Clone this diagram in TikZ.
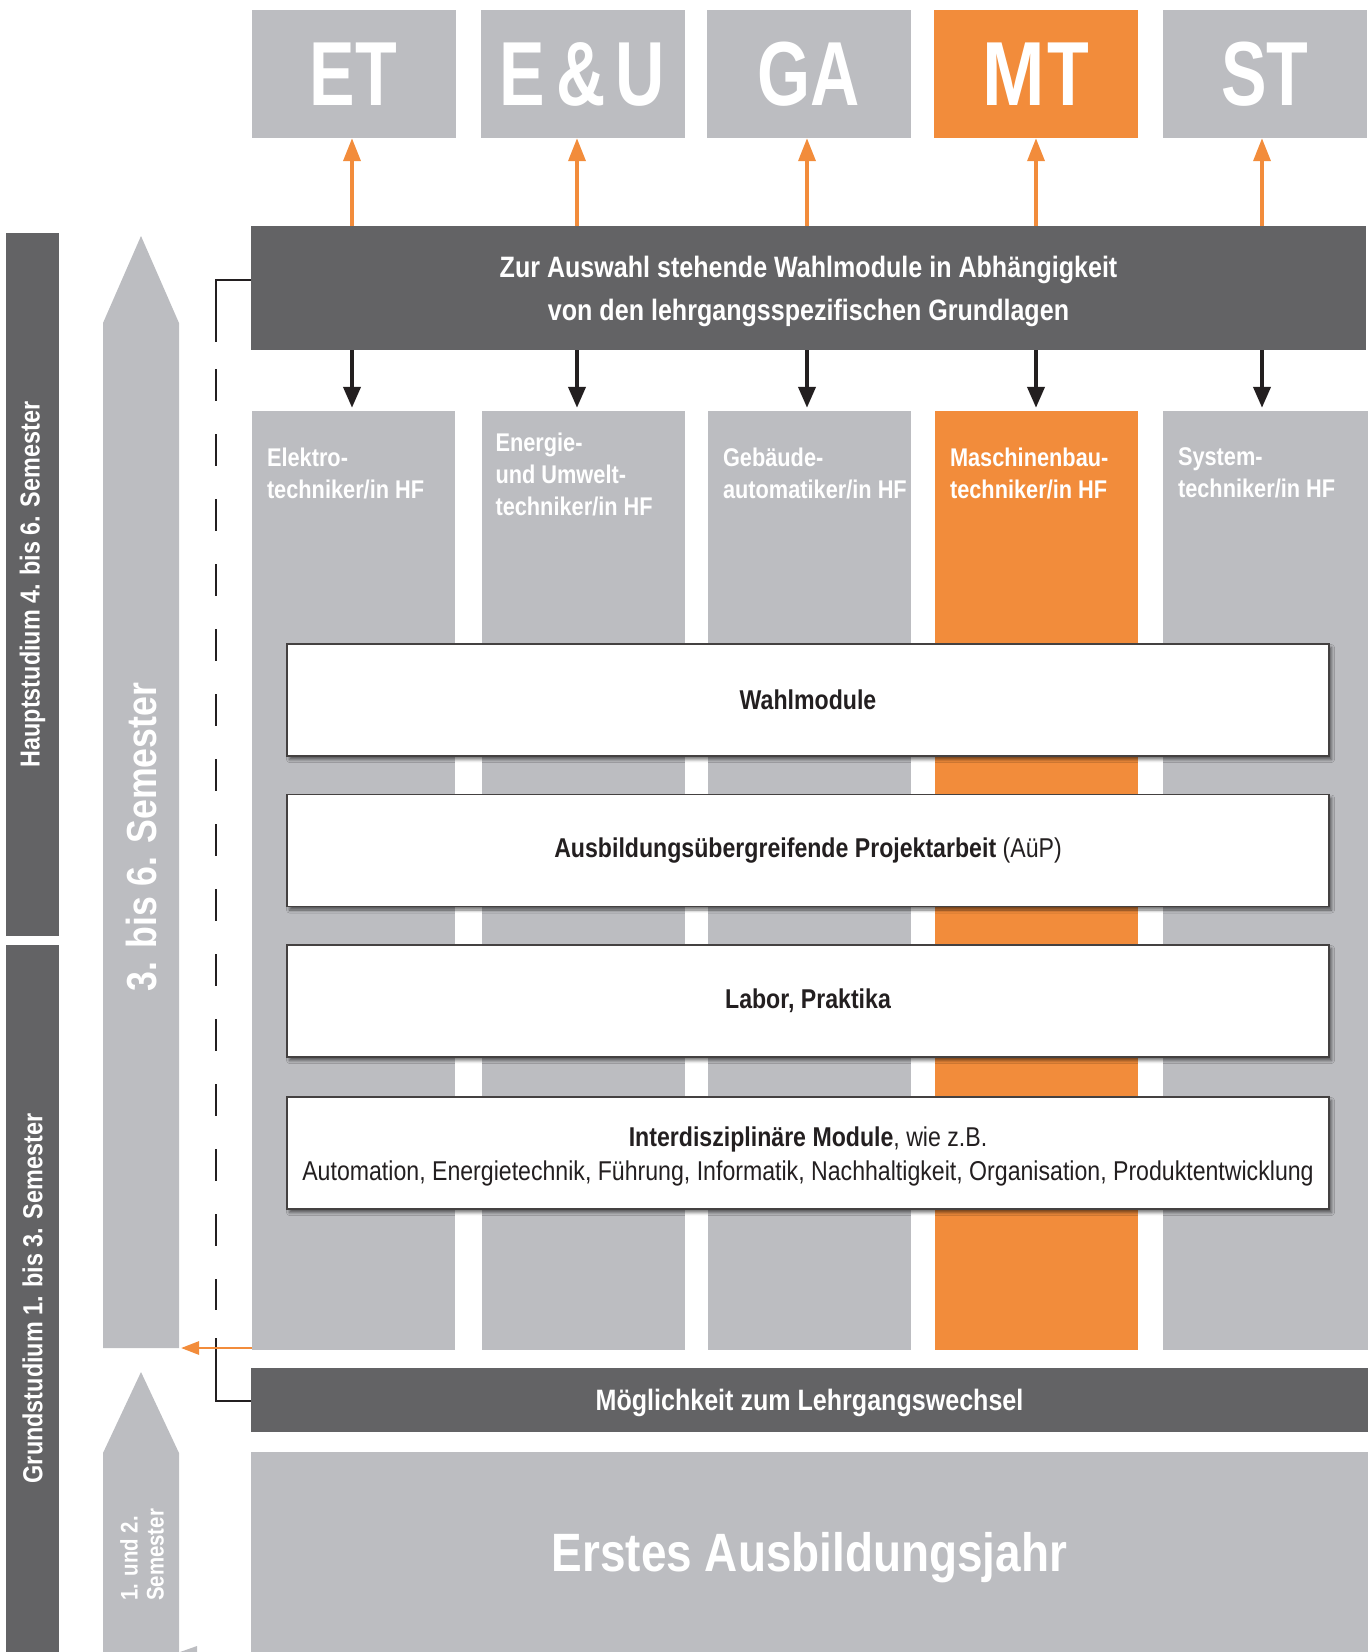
\documentclass[tikz,border=0pt]{standalone}
\usepackage{fontspec}
\newfontfamily\cf[FakeStretch=0.85]{Liberation Sans}
\newfontfamily\cfx[FakeStretch=0.75]{Liberation Sans}
\usetikzlibrary{arrows.meta,shadows.blur,calc}
\definecolor{lg}{HTML}{BCBDC1}
\definecolor{dg}{HTML}{636365}
\definecolor{org}{HTML}{F28C3B}
\definecolor{ink}{HTML}{231F20}
\tikzset{
  topbox/.style={fill=lg, minimum width=204pt, minimum height=128pt, inner sep=0pt, text=white,
    font={\cfx\bfseries\fontsize{91}{91}\selectfont}},
  colbox/.style={fill=lg, minimum width=203pt, minimum height=939pt, inner sep=0pt},
  collab/.style={anchor=north west, inner sep=0pt, align=left, text=white,
    font={\cf\bfseries\fontsize{25.6}{32}\selectfont}},
  darkbar/.style={fill=dg, inner sep=0pt, text=white, align=center,
    font={\cf\bfseries\fontsize{29.5}{43}\selectfont}},
  wbox/.style={draw=ink!85, line width=1.3pt, fill=white, minimum width=1042pt, minimum height=112pt,
    inner sep=0pt, align=center, text=ink, font={\cf\fontsize{27.2}{34}\selectfont},
    blur shadow={shadow xshift=2.5pt, shadow yshift=-3.5pt, shadow blur radius=3pt, shadow opacity=55}},
  sidebar/.style={fill=dg, minimum width=53pt, inner sep=0pt},
  sidelab/.style={rotate=90, text=white, inner sep=0pt, font={\cf\bfseries\fontsize{27.5}{30}\selectfont}},
  oarrow/.style={draw=org, line width=3.6pt, -{Triangle[width=17pt,length=23pt]}},
  barrow/.style={draw=ink, line width=4pt, -{Triangle[width=17pt,length=21pt]}, shorten >=3pt},
  dline/.style={draw=ink, line width=2.8pt},
}
\begin{document}
\begin{tikzpicture}[x=1pt,y=-1pt]
\useasboundingbox (0,0) rectangle (1368,1652);

% top boxes
\node[topbox] (et) at (353.5,74) {ET};
\node[topbox] (eu) at (582.5,74) {E\kern11pt\&\kern10pt U};
\node[topbox] (ga) at (809,74) {GA};
\node[topbox, fill=org] (mt) at (1036,74) {\scalebox{1.1}[1]{M}\kern2pt T};
\node[topbox] (st) at (1265,74) {ST};

% selection bar
\node[darkbar, minimum width=1115pt, minimum height=124pt] (sel) at (808.5,288) {};
\node[darkbar, fill=none] (selt) at (808.5,291)
  {Zur Auswahl stehende Wahlmodule in Abhängigkeit\\von den lehrgangsspezifischen Grundlagen};

% columns
\node[colbox] (cET) at (353.5,880.5) {};
\node[colbox] (cEU) at (583,880.5) {};
\node[colbox] (cGA) at (809.5,880.5) {};
\node[colbox, fill=org] (cMT) at (1036.5,880.5) {};
\node[colbox, minimum width=205pt] (cST) at (1265.5,880.5) {};

\node[collab] (lET) at ($(cET.north west)+(15,37)$) {Elektro-\\techniker/in HF};
\node[collab] (lEU) at ($(cEU.north west)+(14,22)$) {Energie-\\und Umwelt-\\techniker/in HF};
\node[collab] (lGA) at ($(cGA.north west)+(15,37)$) {Gebäude-\\automatiker/in HF};
\node[collab] (lMT) at ($(cMT.north west)+(15,37)$) {Maschinenbau-\\techniker/in HF};
\node[collab] (lST) at ($(cST.north west)+(15,37)$) {System-\\techniker/in HF};

% arrows x positions
\coordinate (aET) at (352,0);
\coordinate (aEU) at (577,0);
\coordinate (aGA) at (807,0);
\coordinate (aMT) at (1036,0);
\coordinate (aST) at (1262,0);

\draw[oarrow] (sel.north -| aET) -- (et.south -| aET);
\draw[oarrow] (sel.north -| aEU) -- (eu.south -| aEU);
\draw[oarrow] (sel.north -| aGA) -- (ga.south -| aGA);
\draw[oarrow] (sel.north -| aMT) -- (mt.south -| aMT);
\draw[oarrow] (sel.north -| aST) -- (st.south -| aST);

\draw[barrow] (sel.south -| aET) -- (cET.north -| aET);
\draw[barrow] (sel.south -| aEU) -- (cEU.north -| aEU);
\draw[barrow] (sel.south -| aGA) -- (cGA.north -| aGA);
\draw[barrow] (sel.south -| aMT) -- (cMT.north -| aMT);
\draw[barrow] (sel.south -| aST) -- (cST.north -| aST);

% white boxes
\node[wbox] (b1) at (808,700) {\bfseries Wahlmodule};
\node[wbox] (b2) at (808,850.5) {\textbf{Ausbildungsübergreifende Projektarbeit} (AüP)};
\node[wbox] (b3) at (808,1001) {\bfseries Labor, Praktika};
\node[wbox] (b4) at (808,1153) {};
\node[align=center, text=ink, inner sep=0pt, font={\cf\fontsize{27.2}{34}\selectfont}] (b4t) at (808,1156)
  {\textbf{Interdisziplinäre Module}, wie z.B.\\Automation, Energietechnik, Führung, Informatik, Nachhaltigkeit, Organisation, Produktentwicklung};

% bottom bars
\node[darkbar, minimum width=1117pt, minimum height=64pt] (lw) at (809.5,1400) {};
\node[darkbar, fill=none] (lwt) at (809.5,1403) {Möglichkeit zum Lehrgangswechsel};
\node[fill=lg, minimum width=1117pt, minimum height=200pt, inner sep=0pt] (eaj) at (809.5,1552) {};
\node[text=white, inner sep=0pt, font={\cf\bfseries\fontsize{54}{60}\selectfont}] (eajt) at (809.5,1558) {Erstes Ausbildungsjahr};

% left side bars
\node[sidebar, minimum height=703pt] (hs) at (32.5,584.5) {};
\node[sidelab] (hsl) at (hs.center) {Hauptstudium 4. bis 6. Semester};
\node[sidebar, minimum height=707pt] (gs) at (32.5,1298.5) {};
\node[sidelab] (gsl) at (gs.center) {Grundstudium 1. bis 3. Semester};

% big arrows
\fill[lg] (103,1348) -- (103,323) -- (141,236) -- (179,323) -- (179,1348) -- cycle;
\node[rotate=90, text=white, inner sep=0pt, font={\cf\bfseries\fontsize{42}{46}\selectfont}] (t36) at (142,837) {3. bis 6. Semester};
\fill[lg] (103,1652) -- (103,1453) -- (141,1372) -- (179,1453) -- (179,1652) -- cycle;
\node[rotate=90, anchor=west, align=left, text=white, inner sep=0pt, font={\cf\bfseries\fontsize{24}{26}\selectfont}] (t12) at (142,1601) {1. und 2.\\Semester};
\fill[lg] (180,1652) -- (197,1646) -- (197,1652) -- cycle;

% dashed connector
\coordinate (dTop) at (216,280);
\coordinate (dBot) at (216,1401);
\draw[dline] (sel.west |- dTop) -- (dTop) -- ($(dTop)+(0,62)$);
\draw[dline, dash pattern=on 32pt off 33pt] ($(dTop)+(0,89)$) -- ($(dBot)+(0,-91)$);
\draw[dline] ($(dBot)+(0,-63)$) -- (dBot) -- (lw.west |- dBot);

% orange back arrow
\coordinate (oTip) at (181,1348);
\draw[draw=org, line width=2.7pt, -{Triangle[width=13pt,length=18pt]}] (cET.west |- oTip) -- (oTip);
\end{tikzpicture}
\end{document}
